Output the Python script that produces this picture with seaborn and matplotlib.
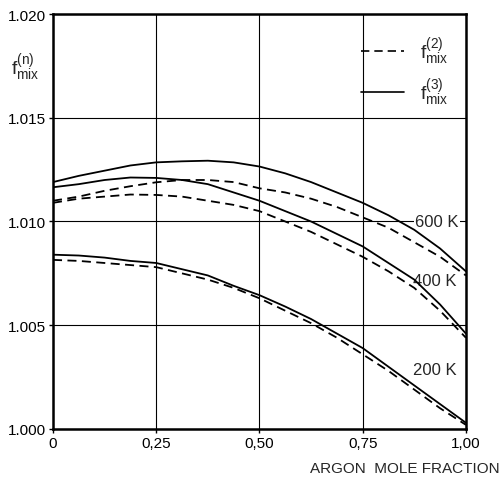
import pandas as pd
import numpy as np
import matplotlib
matplotlib.use('Agg')
import matplotlib.pyplot as plt
from matplotlib.lines import Line2D
import seaborn as sns

# argon mole fraction grid
fraction = [0, 0.0625, 0.125, 0.1875, 0.25, 0.3125, 0.375, 0.4375, 0.5,
            0.5625, 0.625, 0.6875, 0.75, 0.8125, 0.875, 0.9375, 1.0]

# f_mix^(3) (solid) and f_mix^(2) (dashed) per temperature
f3_600 = [1.0119, 1.0122, 1.01245, 1.0127, 1.01285, 1.0129, 1.01293, 1.01285, 1.01265,
          1.01232, 1.0119, 1.0114, 1.0109, 1.0103, 1.0096, 1.0087, 1.0076]
f2_600 = [1.0110, 1.0112, 1.01148, 1.0117, 1.01189, 1.0120, 1.0120, 1.0119, 1.0116,
          1.0114, 1.0111, 1.0107, 1.0102, 1.0097, 1.0090, 1.0083, 1.0074]
f3_400 = [1.01165, 1.0118, 1.0120, 1.01212, 1.0121, 1.0120, 1.0118, 1.0114, 1.0110,
          1.0105, 1.0100, 1.0094, 1.0088, 1.0080, 1.0072, 1.0060, 1.0046]
f2_400 = [1.0109, 1.0111, 1.0112, 1.0113, 1.01128, 1.0112, 1.0110, 1.0108, 1.0105,
          1.0100, 1.0095, 1.0089, 1.0083, 1.0076, 1.0068, 1.0057, 1.0044]
f3_200 = [1.0084, 1.00836, 1.00826, 1.0081, 1.0080, 1.0077, 1.0074, 1.0069, 1.00645,
          1.0059, 1.0053, 1.0046, 1.0039, 1.0030, 1.0021, 1.0012, 1.0003]
f2_200 = [1.00815, 1.0081, 1.0080, 1.0079, 1.0078, 1.0075, 1.0072, 1.0068, 1.0063,
          1.0057, 1.0051, 1.0044, 1.0036, 1.0028, 1.0019, 1.0010, 1.0002]

temp_labels = ['600 K', '400 K', '200 K']
temp_label_pos = [(0.93, 1.0100), (0.925, 1.00718), (0.925, 1.00289)]

xticks = [0, 0.25, 0.5, 0.75, 1.0]
xtick_labels = ['0', '0,25', '0,50', '0,75', '1,00']
yticks = [1.000, 1.005, 1.010, 1.015, 1.020]
ytick_labels = ['1.000', '1.005', '1.010', '1.015', '1.020']

rows = []
for T, f2, f3 in [('600', f2_600, f3_600), ('400', f2_400, f3_400), ('200', f2_200, f3_200)]:
    for x, a, b in zip(fraction, f2, f3):
        rows.append({'x': x, 'f': a, 'T': T, 'order': '2'})
        rows.append({'x': x, 'f': b, 'T': T, 'order': '3'})
df = pd.DataFrame(rows)

sns.set_style('ticks')
plt.rcParams['font.family'] = ['Liberation Sans', 'DejaVu Sans']
plt.rcParams['mathtext.fontset'] = 'custom'
plt.rcParams['mathtext.rm'] = 'Liberation Sans'
plt.rcParams['mathtext.it'] = 'Liberation Sans'

fig = plt.figure(figsize=(5.02, 4.89), dpi=100)
ax = fig.add_axes([0.1056, 0.1207, 0.8224, 0.8486])
ax.set_axisbelow(True)

sns.lineplot(data=df, x='x', y='f', style='order', units='T', estimator=None,
             dashes={'2': (5, 3), '3': ''}, color='black', lw=1.3, legend=False,
             ax=ax, zorder=3)

ax.set_xlim(0, 1)
ax.set_ylim(1.000, 1.020)
ax.set_xticks(xticks)
ax.set_xticklabels(xtick_labels, fontsize=11)
ax.set_yticks(yticks)
ax.set_yticklabels(ytick_labels, fontsize=11)
ax.tick_params(length=3, width=1, pad=2, colors='black')
ax.set_xlabel('')
ax.set_ylabel('')
ax.grid(True, color='black', lw=0.8)
for s in ax.spines.values():
    s.set_linewidth(1.8)
    s.set_color('black')

for lab, (x, y) in zip(temp_labels, temp_label_pos):
    ax.text(x, y, lab, fontsize=12, ha='center', va='center', zorder=2,
            bbox=dict(facecolor='white', edgecolor='none', pad=1))

handles = [Line2D([], [], color='black', lw=1.2, dashes=(5, 3)),
           Line2D([], [], color='black', lw=1.2)]
ax.legend(handles, [r'$\mathrm{f}^{(2)}_{\mathrm{mix}}$', r'$\mathrm{f}^{(3)}_{\mathrm{mix}}$'],
          loc='upper right', frameon=False, fontsize=14, handlelength=2.2,
          labelspacing=0.5, bbox_to_anchor=(1.0, 0.99))

fig.text(0.05, 0.86, r'$\mathrm{f}^{(n)}_{\mathrm{mix}}$', fontsize=14, ha='center', va='center')
fig.text(0.995, 0.04, 'ARGON  MOLE FRACTION', fontsize=11, ha='right', va='center')

fig.savefig('out.png', dpi=100)
